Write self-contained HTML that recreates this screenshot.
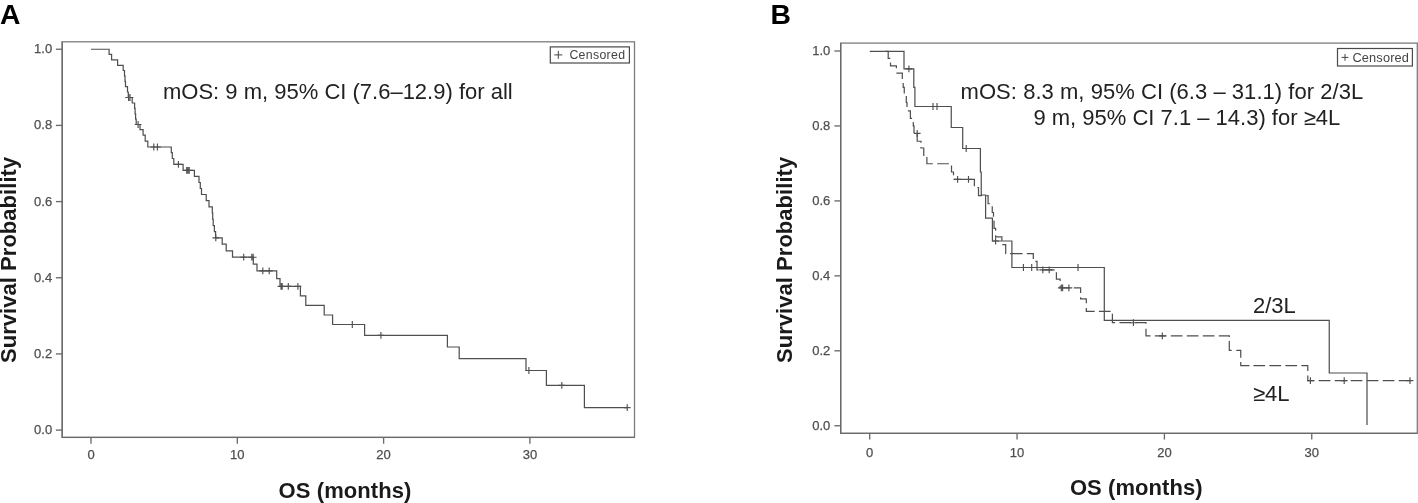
<!DOCTYPE html>
<html lang="en">
<head>
<meta charset="utf-8">
<title>Overall survival</title>
<style>
html,body{margin:0;padding:0;background:#fff;}
body{width:1418px;height:503px;overflow:hidden;position:relative;font-family:"Liberation Sans",Arial,sans-serif;}
svg{position:absolute;left:0;top:0;display:block;}
text{font-family:"Liberation Sans",Arial,sans-serif;}
.tl{font-size:13px;fill:#4f4f4f;stroke:#4f4f4f;stroke-width:0.25px;}
.ax{font-size:22px;font-weight:bold;fill:#1a1a1a;}
.pl{font-size:28.3px;font-weight:bold;fill:#000;}
.an{font-size:22px;fill:#222;}
.lg{font-size:12.3px;fill:#444;letter-spacing:0.33px;}
</style>
</head>
<body>
<svg width="1418" height="503" viewBox="0 0 1418 503">
<rect x="0" y="0" width="1418" height="503" fill="#ffffff"/>
<rect x="62.20" y="41.80" width="572.30" height="395.60" fill="none" stroke="#7c7c7c" stroke-width="1.3"/>
<g fill="none" stroke="#6b6b6e" stroke-width="1.35"><path d="M62.20 41.80V437.40H634.50"/><line x1="55.90" y1="49.25" x2="62.20" y2="49.25"/><line x1="55.90" y1="125.42" x2="62.20" y2="125.42"/><line x1="55.90" y1="201.59" x2="62.20" y2="201.59"/><line x1="55.90" y1="277.76" x2="62.20" y2="277.76"/><line x1="55.90" y1="353.93" x2="62.20" y2="353.93"/><line x1="55.90" y1="430.10" x2="62.20" y2="430.10"/><line x1="91.00" y1="437.40" x2="91.00" y2="443.70"/><line x1="237.30" y1="437.40" x2="237.30" y2="443.70"/><line x1="383.60" y1="437.40" x2="383.60" y2="443.70"/><line x1="529.90" y1="437.40" x2="529.90" y2="443.70"/></g>
<text class="tl" x="52.20" y="53.25" text-anchor="end">1.0</text><text class="tl" x="52.20" y="129.42" text-anchor="end">0.8</text><text class="tl" x="52.20" y="205.59" text-anchor="end">0.6</text><text class="tl" x="52.20" y="281.76" text-anchor="end">0.4</text><text class="tl" x="52.20" y="357.93" text-anchor="end">0.2</text><text class="tl" x="52.20" y="434.10" text-anchor="end">0.0</text>
<text class="tl" x="91.00" y="459.00" text-anchor="middle">0</text><text class="tl" x="237.30" y="459.00" text-anchor="middle">10</text><text class="tl" x="383.60" y="459.00" text-anchor="middle">20</text><text class="tl" x="529.90" y="459.00" text-anchor="middle">30</text>
<path d="M91.00 49.25H109.10V54.40H111.60V59.80H117.60V65.40H123.20V70.50H124.50V75.90H125.00V81.30H125.50V86.70H127.50V92.00H128.30V97.50H132.20V103.00H134.60V108.40H135.10V113.80H135.60V119.20H136.20V124.50H140.00V129.60H143.10V135.10H145.20V141.20H147.80V147.00H171.30V152.60H172.30V158.50H173.80V164.40H183.10V170.40H194.40V176.30H199.00V182.50H200.30V188.50H201.50V194.50H206.20V200.60H209.00V206.90H212.30V213.10H212.70V219.40H213.20V225.60H214.40V231.60H215.60V237.80H222.20V244.20H226.20V250.80H232.50V257.20H253.30V264.20H257.00V270.80H276.70V278.60H280.00V286.30H300.40V295.80H305.80V305.30H324.20V315.00H332.60V324.50H364.60V335.40H447.40V347.00H459.20V358.60H526.00V370.50H546.40V385.30H584.40V407.60H627.20" fill="none" stroke="#4f4f4f" stroke-width="1.22"/>
<path d="M128.60 94.10V100.90M125.20 97.50H132.00M130.00 94.10V100.90M126.60 97.50H133.40M138.10 121.10V127.90M134.70 124.50H141.50M153.80 143.60V150.40M150.40 147.00H157.20M157.40 143.60V150.40M154.00 147.00H160.80M178.40 161.00V167.80M175.00 164.40H181.80M186.70 167.00V173.80M183.30 170.40H190.10M187.95 167.00V173.80M184.55 170.40H191.35M189.20 167.00V173.80M185.80 170.40H192.60M215.80 234.40V241.20M212.40 237.80H219.20M243.70 253.80V260.60M240.30 257.20H247.10M251.80 253.80V260.60M248.40 257.20H255.20M253.20 253.80V260.60M249.80 257.20H256.60M262.80 267.40V274.20M259.40 270.80H266.20M269.20 267.40V274.20M265.80 270.80H272.60M281.00 282.90V289.70M277.60 286.30H284.40M282.20 282.90V289.70M278.80 286.30H285.60M288.30 282.90V289.70M284.90 286.30H291.70M297.90 282.90V289.70M294.50 286.30H301.30M352.30 321.10V327.90M348.90 324.50H355.70M380.90 332.00V338.80M377.50 335.40H384.30M528.90 367.10V373.90M525.50 370.50H532.30M561.80 381.90V388.70M558.40 385.30H565.20M627.20 404.20V411.00M623.80 407.60H630.60" fill="none" stroke="#4f4f4f" stroke-width="1.15"/>
<text class="pl" x="0" y="23.8">A</text>
<text class="ax" transform="translate(16.2 363) rotate(-90)" style="letter-spacing:0.04px">Survival Probability</text>
<text class="ax" x="278.6" y="498.2" style="letter-spacing:0.08px">OS (months)</text>
<text class="an" x="163" y="98.7">mOS: 9 m, 95% CI (7.6–12.9) for all</text>
<rect x="550.3" y="46.9" width="79.1" height="16.1" fill="#fff" stroke="#4a4a4a" stroke-width="1.2"/>
<path d="M554.3 54.9H562.3M558.3 50.9V58.9" stroke="#444" stroke-width="1" fill="none"/>
<text class="lg" x="569.4" y="58.9">Censored</text>
<rect x="840.70" y="43.10" width="576.60" height="390.20" fill="none" stroke="#7c7c7c" stroke-width="1.3"/>
<g fill="none" stroke="#6b6b6e" stroke-width="1.35"><path d="M840.70 43.10V433.30H1417.30"/><line x1="834.40" y1="51.00" x2="840.70" y2="51.00"/><line x1="834.40" y1="125.95" x2="840.70" y2="125.95"/><line x1="834.40" y1="200.90" x2="840.70" y2="200.90"/><line x1="834.40" y1="275.85" x2="840.70" y2="275.85"/><line x1="834.40" y1="350.80" x2="840.70" y2="350.80"/><line x1="834.40" y1="425.75" x2="840.70" y2="425.75"/><line x1="869.70" y1="433.30" x2="869.70" y2="439.60"/><line x1="1017.05" y1="433.30" x2="1017.05" y2="439.60"/><line x1="1164.40" y1="433.30" x2="1164.40" y2="439.60"/><line x1="1311.75" y1="433.30" x2="1311.75" y2="439.60"/></g>
<text class="tl" x="830.30" y="55.30" text-anchor="end">1.0</text><text class="tl" x="830.30" y="130.25" text-anchor="end">0.8</text><text class="tl" x="830.30" y="205.20" text-anchor="end">0.6</text><text class="tl" x="830.30" y="280.15" text-anchor="end">0.4</text><text class="tl" x="830.30" y="355.10" text-anchor="end">0.2</text><text class="tl" x="830.30" y="430.05" text-anchor="end">0.0</text>
<text class="tl" x="869.70" y="456.70" text-anchor="middle">0</text><text class="tl" x="1017.05" y="456.70" text-anchor="middle">10</text><text class="tl" x="1164.40" y="456.70" text-anchor="middle">20</text><text class="tl" x="1311.75" y="456.70" text-anchor="middle">30</text>
<path d="M869.80 51.40H904.00V68.85H913.80V87.40H914.90V106.50H951.25V127.50H962.70V148.50H980.40V172.00H981.25V195.00H985.60V218.10H992.40V241.00H1011.90V267.50H1104.30V320.30H1329.25V373.00H1367.00V425.00" fill="none" stroke="#4f4f4f" stroke-width="1.22"/>
<path d="M885.60 51.40L888.20 51.40L888.20 58.35L890.35 58.35M890.50 62.50L890.50 65.80L896.40 65.80L896.40 68.30M896.40 73.15L902.30 73.15L902.30 78.95M903.20 82.90L903.20 87.40L904.25 87.40L904.25 93.55M906.30 96.10L906.30 102.50L907.00 102.50L907.00 107.10M907.90 110.80L910.40 110.80L910.40 118.30L912.10 118.30M913.30 122.00L913.30 125.80L914.00 125.80L914.00 133.00M917.20 134.10L917.20 141.25L921.00 141.25L921.00 142.00M917.20 134.80L917.20 141.25L921.00 141.25L921.00 142.70M921.00 147.00L921.00 148.00L923.75 148.00L923.75 155.95M926.90 157.10L926.90 163.75L931.95 163.75M926.90 158.00L926.90 163.75L932.85 163.75M937.25 163.75L948.95 163.75M951.50 165.60L951.50 172.00L953.50 172.00L953.50 175.30M953.50 179.40L965.20 179.40M969.50 179.40L974.40 179.40L974.40 186.20M977.40 187.50L978.50 187.50L978.50 195.60L981.00 195.60M978.50 187.50L978.50 195.60L982.10 195.60M986.40 195.60L988.10 195.60L988.10 203.75L989.95 203.75M992.25 206.25L992.25 212.50L993.50 212.50L993.50 216.70M994.00 220.60L994.00 228.40L995.60 228.40L995.60 230.70M995.60 235.30L995.60 236.90L1001.90 236.90L1001.90 240.70M1002.30 244.60L1005.70 244.60L1005.70 252.90M1003.20 244.60L1005.70 244.60L1005.70 253.70L1005.80 253.70M1010.10 253.70L1021.80 253.70M1010.90 253.70L1022.60 253.70M1026.80 253.70L1033.30 253.70L1033.30 258.90M1035.30 261.40L1037.00 261.40L1037.00 269.80L1038.60 269.80M1042.90 269.80L1054.60 269.80M1056.40 272.30L1056.40 279.20L1060.15 279.20L1060.15 280.25M1056.40 273.10L1056.40 279.20L1060.15 279.20L1060.15 281.05M1060.15 285.70L1060.15 287.90L1069.65 287.90M1073.90 287.90L1080.60 287.90L1080.60 292.90M1080.60 297.20L1080.60 298.80L1086.30 298.80L1086.30 303.20M1086.30 308.00L1086.30 311.30L1094.70 311.30M1098.90 311.30L1110.60 311.30M1112.40 313.75L1112.40 322.70L1115.15 322.70M1119.45 322.70L1131.15 322.70M1135.45 322.70L1146.00 322.70L1146.00 323.85M1146.00 328.70L1146.00 335.90L1150.50 335.90M1154.80 335.90L1166.50 335.90M1170.80 335.90L1182.50 335.90M1186.80 335.90L1198.50 335.90M1202.80 335.90L1214.50 335.90M1218.80 335.90L1229.30 335.90L1229.30 337.10M1229.30 341.10L1229.30 350.40L1231.70 350.40M1236.30 350.40L1240.75 350.40L1240.75 357.65M1240.75 361.95L1240.75 365.70L1248.70 365.70M1240.75 362.70L1240.75 365.70L1249.45 365.70M1253.40 365.70L1265.10 365.70M1269.40 365.70L1281.10 365.70M1285.40 365.70L1297.10 365.70M1301.40 365.70L1307.80 365.70L1307.80 371.00M1307.80 375.60L1307.80 380.60L1314.50 380.60M1318.70 380.60L1330.40 380.60M1334.70 380.60L1346.40 380.60M1350.70 380.60L1362.40 380.60M1366.70 380.60L1378.40 380.60M1382.70 380.60L1394.40 380.60M1398.70 380.60L1410.40 380.60" fill="none" stroke="#4f4f4f" stroke-width="1.22" stroke-linejoin="miter"/>
<path d="M908.90 65.45V72.25M905.50 68.85H912.30M933.00 103.10V109.90M929.60 106.50H936.40M937.00 103.10V109.90M933.60 106.50H940.40M966.20 145.10V151.90M962.80 148.50H969.60M995.60 237.60V244.40M992.20 241.00H999.00M1023.40 264.10V270.90M1020.00 267.50H1026.80M1031.70 264.10V270.90M1028.30 267.50H1035.10M1078.00 264.10V270.90M1074.60 267.50H1081.40M917.20 130.00V136.80M913.80 133.40H920.60M957.60 176.00V182.80M954.20 179.40H961.00M968.50 176.00V182.80M965.10 179.40H971.90M1042.80 266.40V273.20M1039.40 269.80H1046.20M1049.20 266.40V273.20M1045.80 269.80H1052.60M1061.30 284.50V291.30M1057.90 287.90H1064.70M1062.60 284.50V291.30M1059.20 287.90H1066.00M1068.90 284.50V291.30M1065.50 287.90H1072.30M1133.40 319.30V326.10M1130.00 322.70H1136.80M1162.30 332.50V339.30M1158.90 335.90H1165.70M1310.40 377.20V384.00M1307.00 380.60H1313.80M1344.20 377.20V384.00M1340.80 380.60H1347.60M1410.00 377.20V384.00M1406.60 380.60H1413.40" fill="none" stroke="#4f4f4f" stroke-width="1.15"/>
<text class="pl" x="770.6" y="23.8">B</text>
<text class="ax" transform="translate(792.3 363) rotate(-90)" style="letter-spacing:0.04px">Survival Probability</text>
<text class="ax" x="1069.9" y="495.3" style="letter-spacing:0.08px">OS (months)</text>
<text class="an" x="960.6" y="98.8" style="letter-spacing:0.04px">mOS: 8.3 m, 95% CI (6.3 – 31.1) for 2/3L</text>
<text class="an" x="1033.4" y="124.6">9 m, 95% CI 7.1 – 14.3) for ≥4L</text>
<text class="an" x="1253" y="312.5">2/3L</text>
<text class="an" x="1253" y="401">≥4L</text>
<rect x="1337.5" y="48.5" width="74.9" height="17.5" fill="#fff" stroke="#4a4a4a" stroke-width="1.2"/>
<path d="M1341.6 57.4H1348.4M1345 54V60.8" stroke="#444" stroke-width="1" fill="none"/>
<text class="lg" x="1352.5" y="61.6" style="font-size:12.8px;letter-spacing:0.13px">Censored</text>
</svg>
</body>
</html>
